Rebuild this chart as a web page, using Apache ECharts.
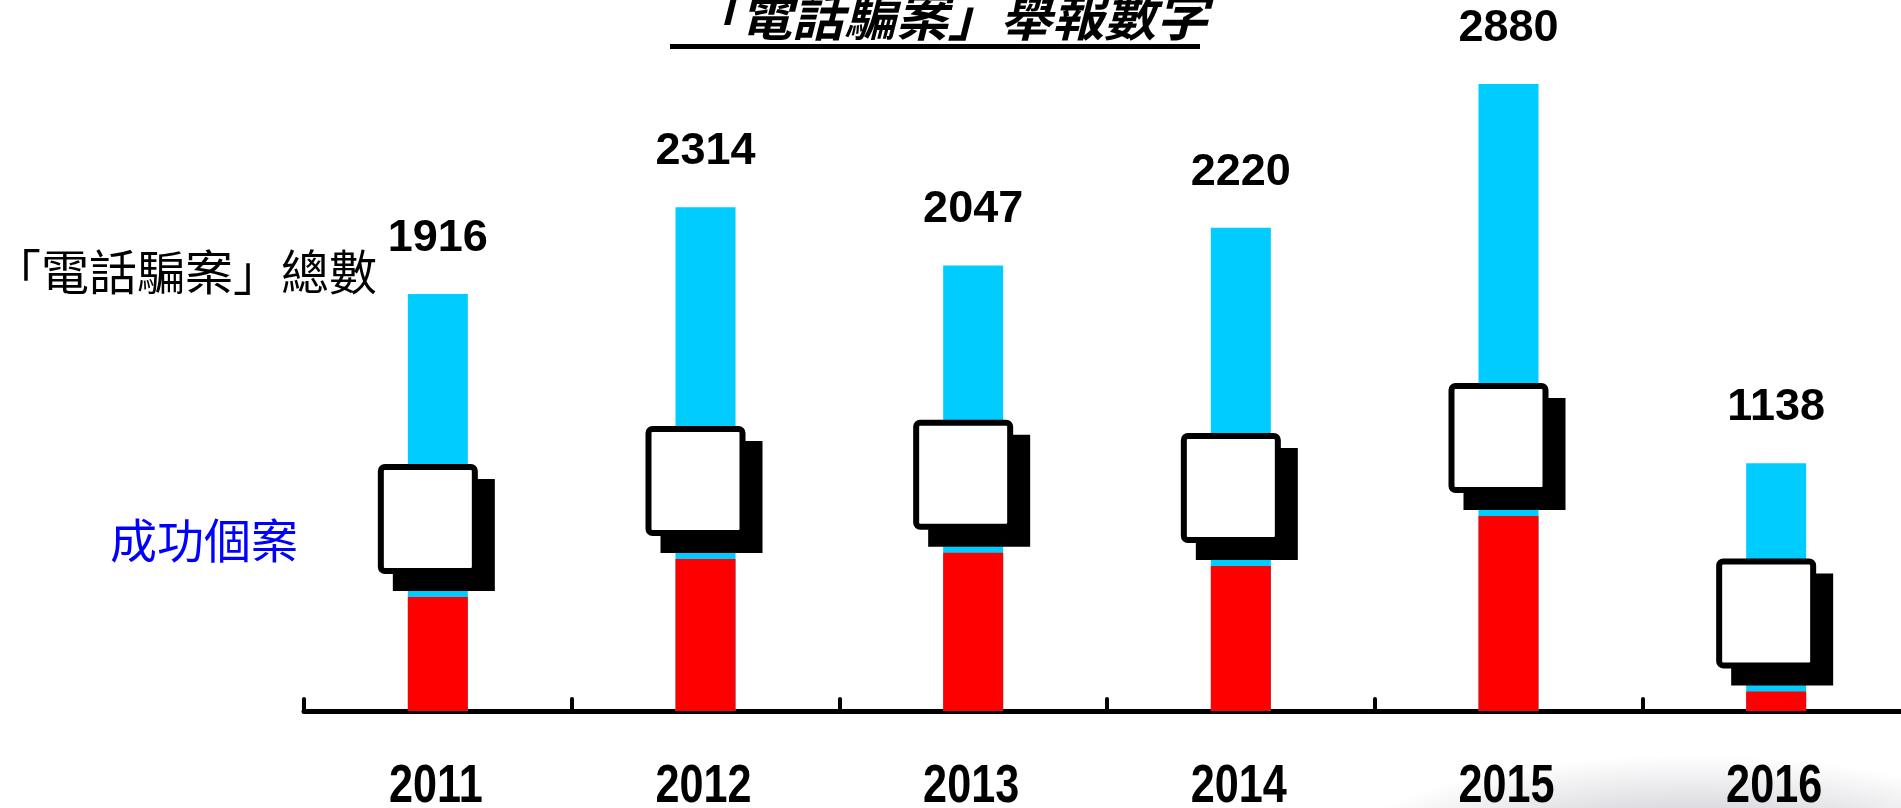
<!DOCTYPE html>
<html>
<head>
<meta charset="utf-8">
<script src="https://cdn.jsdelivr.net/npm/echarts@6/dist/echarts.min.js"></script>
<style>
html,body{margin:0;padding:0;background:#fff;}
#chart{width:1901px;height:808px;}
</style>
</head>
<body>
<div id="chart"></div>
<script>
var categories = ['2011', '2012', '2013', '2014', '2015', '2016'];
var totalCases = [1916, 2314, 2047, 2220, 2880, 1138];
var successCases = [524, 698, 727, 666, 896, 90];

var chart = echarts.init(document.getElementById('chart'));

var cjk = "'Noto Sans CJK TC', 'Noto Sans CJK SC', sans-serif";

chart.setOption({
  backgroundColor: '#ffffff',
  animation: false,
  grid: { left: 304, width: 1606, top: 58, bottom: 97, containLabel: false, outerBoundsMode: 'none' },
  xAxis: {
    type: 'category',
    data: categories,
    offset: 3,
    axisLine: { show: true, lineStyle: { color: '#000', width: 5, cap: 'round' } },
    axisTick: { show: true, inside: true, length: 12, lineStyle: { color: '#000', width: 4, cap: 'round' } },
    axisLabel: { show: false }
  },
  yAxis: {
    type: 'value',
    min: 0,
    max: 3000,
    show: false,
    splitLine: { show: false }
  },
  series: [
    {
      name: '「電話騙案」總數',
      type: 'bar',
      data: totalCases,
      barWidth: 60,
      barGap: '-100%',
      itemStyle: { color: '#00ccff' },
      label: {
        show: true,
        position: 'top',
        distance: 33,
        color: '#000',
        fontSize: 45,
        fontWeight: 'bold',
        fontFamily: "'Liberation Sans', Arial, sans-serif"
      },
      z: 2
    },
    {
      name: '成功個案',
      type: 'bar',
      data: successCases,
      barWidth: 60,
      barGap: '-100%',
      itemStyle: { color: '#ff0000' },
      z: 3
    },
    {
      type: 'custom',
      data: successCases.map(function (v, i) { return [i, v]; }),
      encode: { x: 0, y: 1 },
      z: 5,
      renderItem: function (params, api) {
        var p = api.coord([api.value(0), api.value(1)]);
        var cx = p[0], cy = p[1];
        return {
          type: 'group',
          children: [
            { type: 'rect', shape: { x: cx - 45, y: cy - 118, width: 102, height: 112 }, style: { fill: '#000' } },
            { type: 'rect', shape: { x: cx - 57, y: cy - 130, width: 94, height: 104, r: 4 }, style: { fill: '#fff', stroke: '#000', lineWidth: 6 } }
          ]
        };
      }
    },
    {
      // year labels (condensed bold), positioned through the category axis
      type: 'custom',
      data: categories.map(function (c, i) { return [i, 0]; }),
      encode: { x: 0, y: 1 },
      z: 6,
      silent: true,
      renderItem: function (params, api) {
        var p = api.coord([api.value(0), 0]);
        return {
          type: 'text',
          x: p[0] - 2,
          y: p[1] + 76,
          scaleX: 0.8,
          style: {
            text: categories[params.dataIndex],
            fontSize: 54,
            fontWeight: 'bold',
            fontFamily: "'Liberation Sans', Arial, sans-serif",
            fill: '#000',
            align: 'center',
            verticalAlign: 'middle'
          }
        };
      }
    }
  ],
  graphic: [
    {
      type: 'circle',
      x: 1690, y: 865,
      scaleX: 3.3, scaleY: 1,
      shape: { cx: 0, cy: 0, r: 110 },
      style: {
        fill: {
          type: 'radial', x: 0.5, y: 0.5, r: 0.5,
          colorStops: [
            { offset: 0, color: 'rgba(55,55,80,0.38)' },
            { offset: 0.5, color: 'rgba(55,55,80,0.18)' },
            { offset: 1, color: 'rgba(55,55,80,0)' }
          ]
        }
      },
      z: -1
    },
    {
      type: 'text',
      x: 948, y: 16,
      style: {
        text: '「電話騙案」舉報數字',
        fontSize: 52,
        fontWeight: 'bold',
        fontStyle: 'italic',
        fontFamily: cjk,
        fill: '#000',
        align: 'center',
        verticalAlign: 'middle'
      }
    },
    {
      type: 'rect',
      shape: { x: 670, y: 44, width: 530, height: 5 },
      style: { fill: '#000' }
    },
    {
      type: 'text',
      x: 377, y: 272,
      style: {
        text: '「電話騙案」總數',
        fontSize: 48,
        fontFamily: cjk,
        fill: '#000',
        align: 'right',
        verticalAlign: 'middle'
      }
    },
    {
      type: 'text',
      x: 298, y: 540,
      style: {
        text: '成功個案',
        fontSize: 47,
        fontFamily: cjk,
        fill: '#0000ff',
        align: 'right',
        verticalAlign: 'middle'
      }
    }
  ]
});
</script>
</body>
</html>
